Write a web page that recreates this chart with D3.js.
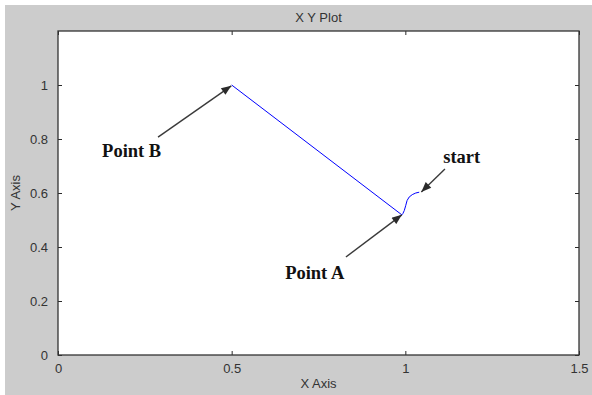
<!DOCTYPE html>
<html>
<head>
<meta charset="utf-8">
<script src="https://cdn.jsdelivr.net/npm/d3@7"></script>
<style>
  html, body { margin: 0; padding: 0; background: #ffffff; }
  svg { display: block; }
  text { font-family: "Liberation Sans", Arial, sans-serif; }
</style>
</head>
<body>
<svg id="chart" width="592" height="395"></svg>
<script>
// Trajectory: starts near (1.04, 0.6), dips to Point A, then runs straight to Point B
const pathX = [1.040, 1.030, 1.020, 1.011, 1.005, 1.001, 0.997, 0.993, 0.990, 0.500];
const pathY = [0.603, 0.600, 0.594, 0.585, 0.572, 0.553, 0.535, 0.524, 0.519, 1.000];

const xTicks = [0, 0.5, 1, 1.5];
const yTicks = [0, 0.2, 0.4, 0.6, 0.8, 1];
const xTickLabels = ["0", "0.5", "1", "1.5"];
const yTickLabels = ["0", "0.2", "0.4", "0.6", "0.8", "1"];

// Text arrows (data coordinates): label position, arrow tail, arrow head
const noteText = ["Point B", "Point A", "start"];
const noteTextX = [0.127, 0.654, 1.109];
const noteTextY = [0.733, 0.281, 0.712];
const arrowTailX = [0.288, 0.829, 1.114];
const arrowTailY = [0.807, 0.363, 0.689];
const arrowHeadX = [0.499, 0.990, 1.046];
const arrowHeadY = [0.997, 0.519, 0.604];

const svg = d3.select("#chart");
const W = 592, H = 395;
const plot = { left: 58, top: 31, right: 579, bottom: 355 };

// figure background
svg.append("rect").attr("x", 5).attr("y", 5).attr("width", W - 5).attr("height", H - 5)
  .attr("fill", "#cccccc");

const x = d3.scaleLinear().domain([0, 1.5]).range([plot.left, plot.right]);
const y = d3.scaleLinear().domain([0, 1.2]).range([plot.bottom, plot.top]);

// axes background
svg.append("rect").attr("x", plot.left).attr("y", plot.top)
  .attr("width", plot.right - plot.left).attr("height", plot.bottom - plot.top)
  .attr("fill", "#ffffff");

const tickColor = "#2a2a2a";
const labelColor = "#333333";

function styleAxis(g) {
  g.select(".domain").remove();
  g.selectAll(".tick line").attr("stroke", tickColor);
  g.selectAll(".tick text").attr("fill", labelColor)
    .style("font-size", "13px").style("font-family", "'Liberation Sans', Arial, sans-serif");
}

// bottom axis with labels
svg.append("g").attr("transform", `translate(0,${plot.bottom})`)
  .call(d3.axisBottom(x).tickValues(xTicks).tickFormat((d, i) => xTickLabels[i])
    .tickSizeInner(-4).tickSizeOuter(0).tickPadding(9))
  .call(styleAxis);
// top axis ticks
svg.append("g").attr("transform", `translate(0,${plot.top})`)
  .call(d3.axisTop(x).tickValues(xTicks).tickFormat("").tickSizeInner(-4).tickSizeOuter(0))
  .call(styleAxis);
// left axis with labels
svg.append("g").attr("transform", `translate(${plot.left},0)`)
  .call(d3.axisLeft(y).tickValues(yTicks).tickFormat((d, i) => yTickLabels[i])
    .tickSizeInner(-4).tickSizeOuter(0).tickPadding(10))
  .call(styleAxis);
// right axis ticks
svg.append("g").attr("transform", `translate(${plot.right},0)`)
  .call(d3.axisRight(y).tickValues(yTicks).tickFormat("").tickSizeInner(-4).tickSizeOuter(0))
  .call(styleAxis);

// axes box
svg.append("rect").attr("x", plot.left).attr("y", plot.top)
  .attr("width", plot.right - plot.left).attr("height", plot.bottom - plot.top)
  .attr("fill", "none").attr("stroke", "#333333").attr("stroke-width", 1.3);

// trajectory line (straight segments between sampled points)
const pts = pathX.map((v, i) => [v, pathY[i]]);
svg.append("path").datum(pts)
  .attr("fill", "none").attr("stroke", "#0000ff").attr("stroke-width", 1)
  .attr("stroke-linejoin", "round")
  .attr("d", d3.line().x(d => x(d[0])).y(d => y(d[1])));

// arrowhead marker
svg.append("defs").append("marker")
  .attr("id", "head").attr("viewBox", "0 0 10 8")
  .attr("refX", 10).attr("refY", 4)
  .attr("markerUnits", "userSpaceOnUse")
  .attr("markerWidth", 11).attr("markerHeight", 8)
  .attr("orient", "auto")
  .append("path").attr("d", "M0,0 L10,4 L0,8 Z").attr("fill", "#2b2b2b");

const notes = svg.append("g");
noteText.forEach((t, i) => {
  notes.append("line")
    .attr("x1", x(arrowTailX[i])).attr("y1", y(arrowTailY[i]))
    .attr("x2", x(arrowHeadX[i])).attr("y2", y(arrowHeadY[i]))
    .attr("stroke", "#3a3a3a").attr("stroke-width", 1.4)
    .attr("marker-end", "url(#head)");
  notes.append("text")
    .attr("x", x(noteTextX[i])).attr("y", y(noteTextY[i]))
    .attr("fill", "#111111")
    .style("font-family", "'Liberation Serif', 'Times New Roman', serif")
    .style("font-weight", "bold").style("font-size", "18.5px")
    .text(t);
});

// title and axis labels
svg.append("text").attr("x", (plot.left + plot.right) / 2).attr("y", 17)
  .attr("text-anchor", "middle").attr("dominant-baseline", "central")
  .attr("fill", labelColor).style("font-size", "13px").text("X Y Plot");
svg.append("text").attr("x", (plot.left + plot.right) / 2).attr("y", 383)
  .attr("text-anchor", "middle").attr("dominant-baseline", "central")
  .attr("fill", labelColor).style("font-size", "13px").text("X Axis");
svg.append("text")
  .attr("transform", `translate(15,${(plot.top + plot.bottom) / 2}) rotate(-90)`)
  .attr("text-anchor", "middle").attr("dominant-baseline", "central")
  .attr("fill", labelColor).style("font-size", "13px").text("Y Axis");
</script>
</body>
</html>
